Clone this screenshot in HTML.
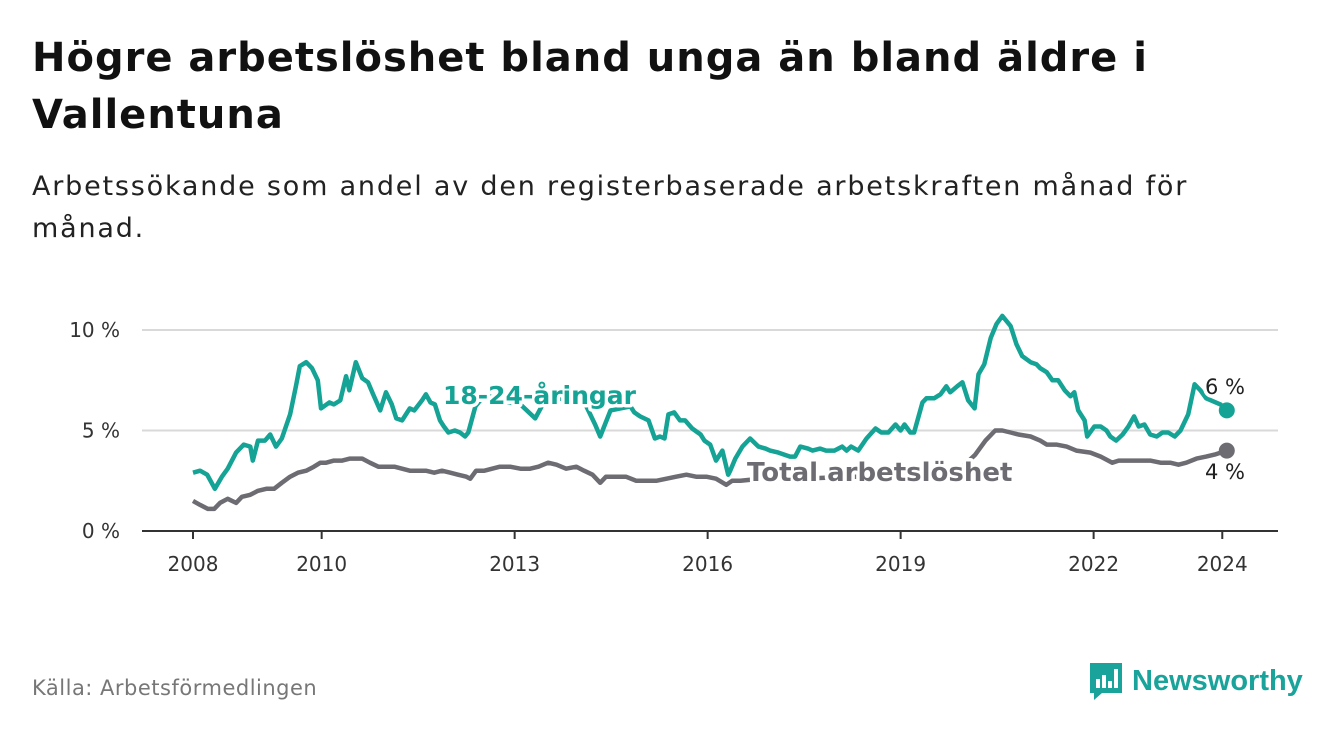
<!DOCTYPE html>
<html><head><meta charset="utf-8"><style>
body{margin:0;width:1340px;height:734px;background:#fff;font-family:"DejaVu Sans",sans-serif;position:relative;overflow:hidden}
h1{position:absolute;left:32px;top:30px;margin:0;font-size:40px;line-height:57px;font-weight:bold;color:#111;letter-spacing:1px}
.sub{position:absolute;left:32px;top:166px;margin:0;font-size:27px;line-height:42px;color:#222;width:1290px;letter-spacing:1.8px}
.src{position:absolute;left:32px;top:676px;font-size:21px;color:#777;letter-spacing:0.5px}
.logo{position:absolute;left:1088px;top:661px;display:flex;align-items:center}
.logo span{font-family:"Liberation Sans",sans-serif;font-size:29px;font-weight:bold;color:#1aa39a;margin-left:8px}
</style></head><body>
<h1>Högre arbetslöshet bland unga än bland äldre i<br>Vallentuna</h1>
<p class="sub">Arbetssökande som andel av den registerbaserade arbetskraften månad för<br>månad.</p>
<svg id="chart" width="1340" height="734" style="position:absolute;left:0;top:0" font-family="DejaVu Sans, sans-serif"></svg>
<div class="src">Källa: Arbetsförmedlingen</div>
<div class="logo">
<svg width="36" height="40" viewBox="0 0 36 40"><path d="M2 2h32v30H14l-8 7v-7H2z" fill="#1aa39a"/><rect x="8" y="18" width="4" height="9" fill="#fff"/><rect x="14" y="14" width="4" height="13" fill="#fff"/><rect x="20" y="20" width="4" height="7" fill="#fff"/><rect x="26" y="8" width="4" height="19" fill="#fff"/></svg>
<span>Newsworthy</span></div>
<script>
const youthDates=[2008.0,2008.11,2008.22,2008.34,2008.45,2008.54,2008.67,2008.79,2008.89,2008.93,2009.01,2009.12,2009.2,2009.29,2009.38,2009.51,2009.6,2009.66,2009.76,2009.85,2009.94,2009.99,2010.12,2010.19,2010.29,2010.38,2010.43,2010.53,2010.63,2010.72,2010.8,2010.91,2011.0,2011.09,2011.16,2011.25,2011.37,2011.44,2011.56,2011.62,2011.69,2011.76,2011.84,2011.9,2011.97,2012.07,2012.15,2012.23,2012.28,2012.39,2012.54,2012.77,2013.09,2013.32,2013.47,2013.79,2014.1,2014.25,2014.33,2014.49,2014.8,2014.86,2014.95,2015.08,2015.18,2015.26,2015.33,2015.39,2015.48,2015.57,2015.65,2015.76,2015.89,2015.95,2016.04,2016.13,2016.23,2016.32,2016.35,2016.43,2016.54,2016.66,2016.79,2016.9,2016.97,2017.1,2017.28,2017.36,2017.44,2017.56,2017.63,2017.75,2017.84,2017.97,2018.09,2018.16,2018.23,2018.34,2018.47,2018.61,2018.7,2018.81,2018.92,2019.0,2019.06,2019.15,2019.21,2019.34,2019.4,2019.52,2019.62,2019.71,2019.77,2019.88,2019.96,2020.05,2020.15,2020.21,2020.3,2020.4,2020.49,2020.58,2020.71,2020.8,2020.89,2021.02,2021.11,2021.17,2021.27,2021.36,2021.45,2021.55,2021.64,2021.7,2021.76,2021.86,2021.9,2022.01,2022.11,2022.2,2022.26,2022.35,2022.45,2022.54,2022.63,2022.7,2022.79,2022.88,2022.98,2023.07,2023.16,2023.26,2023.35,2023.47,2023.57,2023.66,2023.75,2023.97,2024.07];
const youthValues=[2.9,3.0,2.8,2.1,2.7,3.1,3.9,4.3,4.2,3.5,4.5,4.5,4.8,4.2,4.6,5.8,7.2,8.2,8.4,8.1,7.5,6.1,6.4,6.3,6.5,7.7,7.0,8.4,7.6,7.4,6.8,6.0,6.9,6.3,5.6,5.5,6.1,6.0,6.5,6.8,6.4,6.3,5.5,5.2,4.9,5.0,4.9,4.7,4.9,6.2,6.8,6.5,6.3,5.6,6.5,6.6,6.3,5.3,4.7,6.0,6.2,5.9,5.7,5.5,4.6,4.7,4.6,5.8,5.9,5.5,5.5,5.1,4.8,4.5,4.3,3.5,4.0,2.8,3.0,3.6,4.2,4.6,4.2,4.1,4.0,3.9,3.7,3.7,4.2,4.1,4.0,4.1,4.0,4.0,4.2,4.0,4.2,4.0,4.6,5.1,4.9,4.9,5.3,5.0,5.3,4.9,4.9,6.4,6.6,6.6,6.8,7.2,6.9,7.2,7.4,6.5,6.1,7.8,8.3,9.6,10.3,10.7,10.2,9.3,8.7,8.4,8.3,8.1,7.9,7.5,7.5,7.0,6.7,6.9,6.0,5.5,4.7,5.2,5.2,5.0,4.7,4.5,4.8,5.2,5.7,5.2,5.3,4.8,4.7,4.9,4.9,4.7,5.0,5.8,7.3,7.0,6.6,6.3,6.0];
const totalDates=[2008.0,2008.11,2008.23,2008.33,2008.42,2008.54,2008.67,2008.76,2008.89,2009.01,2009.14,2009.26,2009.38,2009.51,2009.63,2009.76,2009.88,2009.98,2010.07,2010.19,2010.32,2010.44,2010.53,2010.63,2010.75,2010.88,2011.0,2011.13,2011.25,2011.37,2011.5,2011.62,2011.75,2011.87,2012.0,2012.12,2012.25,2012.31,2012.4,2012.53,2012.65,2012.77,2012.93,2013.09,2013.24,2013.37,2013.52,2013.65,2013.8,2013.96,2014.08,2014.21,2014.33,2014.42,2014.58,2014.73,2014.89,2015.05,2015.2,2015.36,2015.51,2015.67,2015.82,2015.98,2016.13,2016.29,2016.38,2016.51,2016.82,2017.44,2018.22,2019.0,2019.62,2019.93,2020.16,2020.32,2020.47,2020.58,2020.71,2020.83,2021.02,2021.17,2021.27,2021.42,2021.58,2021.73,2021.95,2022.11,2022.29,2022.39,2022.48,2022.73,2022.88,2023.04,2023.19,2023.32,2023.44,2023.6,2023.75,2023.88,2024.07];
const totalValues=[1.5,1.3,1.1,1.1,1.4,1.6,1.4,1.7,1.8,2.0,2.1,2.1,2.4,2.7,2.9,3.0,3.2,3.4,3.4,3.5,3.5,3.6,3.6,3.6,3.4,3.2,3.2,3.2,3.1,3.0,3.0,3.0,2.9,3.0,2.9,2.8,2.7,2.6,3.0,3.0,3.1,3.2,3.2,3.1,3.1,3.2,3.4,3.3,3.1,3.2,3.0,2.8,2.4,2.7,2.7,2.7,2.5,2.5,2.5,2.6,2.7,2.8,2.7,2.7,2.6,2.3,2.5,2.5,2.6,2.6,2.7,2.7,2.9,3.1,3.8,4.5,5.0,5.0,4.9,4.8,4.7,4.5,4.3,4.3,4.2,4.0,3.9,3.7,3.4,3.5,3.5,3.5,3.5,3.4,3.4,3.3,3.4,3.6,3.7,3.8,4.0];
const yTicks=[0,5,10];
const yTickLabels=["0 %","5 %","10 %"];
const xTicks=[2008,2010,2013,2016,2019,2022,2024];

const NS="http://www.w3.org/2000/svg",svg=document.getElementById('chart');
const X=v=>193+(v-2008)*64.33, Y=v=>531-v*20.1;
function mk(t,a,p){const e=document.createElementNS(NS,t);for(const k in a)e.setAttribute(k,a[k]);(p||svg).appendChild(e);return e;}
yTicks.forEach((t,i)=>{
 if(t>0){const g=mk('line',{x1:142,x2:1278,y1:Y(t),y2:Y(t),stroke:'#d9d9d9','stroke-width':2});
 
 }
 const l=mk('text',{x:120,y:Y(t)+7,'text-anchor':'end','font-size':20,fill:'#333'});l.textContent=yTickLabels[i];
 
 
});
const ax=mk('line',{x1:142,x2:1278,y1:531,y2:531,stroke:'#333','stroke-width':2});


xTicks.forEach(t=>{
 mk('line',{x1:X(t),x2:X(t),y1:531,y2:539,stroke:'#333','stroke-width':2});
 const l=mk('text',{x:X(t),y:571,'text-anchor':'middle','font-size':20,fill:'#333'});l.textContent=t;
 
 
});
function line(d,v,c,name){
 const p=mk('path',{d:d.map((x,i)=>(i?'L':'M')+X(x).toFixed(1)+','+Y(v[i]).toFixed(1)).join(''),fill:'none',stroke:c,'stroke-width':4.5,'stroke-linejoin':'round'});
 
 
 const n=d.length-1;
 const dot=mk('circle',{cx:X(d[n]),cy:Y(v[n]),r:8,fill:c});
 
 
}
line(totalDates,totalValues,'#6d6c72','total-line');
line(youthDates,youthValues,'#14a394','youth-line');
function label(txt,x,y,size,c,bold,name){
 const t=mk('text',{x:x,y:y,'font-size':size,fill:c,'font-weight':bold?'bold':'normal',stroke:'#fff','stroke-width':7,'paint-order':'stroke','stroke-linejoin':'round'});
 t.textContent=txt;
 
 
}
label('18-24-åringar',443,404,25,'#14a394',true,'youth-series-label');
label('Total arbetslöshet',747,481,26,'#6d6c72',true,'total-series-label');
label('6 %',1205,394,21,'#222',false,'youth-end-value');
label('4 %',1205,479,21,'#222',false,'total-end-value');
</script>
</body></html>
